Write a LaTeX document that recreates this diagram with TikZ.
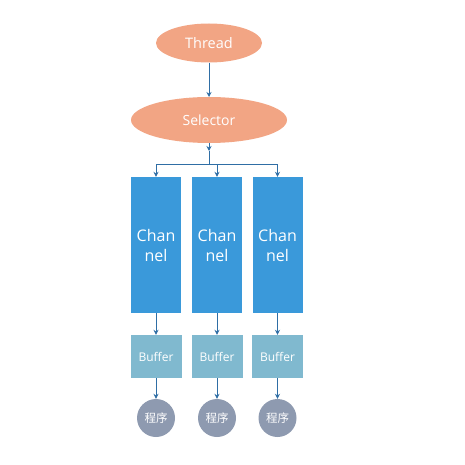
\documentclass[tikz,border=0pt]{standalone}
\usepackage{fontspec}
\setmainfont{Open Sans}
\newfontfamily\cjk{Noto Sans CJK SC}
\usetikzlibrary{arrows.meta,shapes.geometric}
\definecolor{salmon}{HTML}{F2A584}
\definecolor{chanblue}{HTML}{3A99DA}
\definecolor{bufblue}{HTML}{80B9CF}
\definecolor{progrey}{HTML}{8E9AB0}
\definecolor{arrowblue}{HTML}{2F6EA5}
\tikzset{
  oval/.style = {ellipse, fill = salmon, text = white, inner sep = 0pt},
  chanbox/.style = {rectangle, fill = chanblue, text = white, minimum width = 50, minimum height = 136, align = center, font = \fontsize{16}{20}\selectfont},
  bufbox/.style = {rectangle, fill = bufblue, text = white, minimum width = 51, minimum height = 43, font = \fontsize{12}{14}\selectfont},
  prog/.style = {circle, fill = progrey, text = white, minimum size = 38, inner sep = 0pt, font = \cjk\fontsize{11.5}{14}\selectfont},
  arr/.style = {draw = arrowblue, line width = 0.9, -{Stealth[length=5,width=5]}}
}
\begin{document}
\begin{tikzpicture}[x=1pt, y=-1pt]
\useasboundingbox (0,0) rectangle (465,465);
\node[oval, minimum width = 106, minimum height = 39, font = \fontsize{14.5}{16}\selectfont] (thread) at (209,43) {Thread};
\node[oval, minimum width = 156, minimum height = 46, font = \fontsize{14}{16}\selectfont] (sel) at (209,120) {Selector};
\draw[arr] (thread.south) -- (sel.south |- 0,97);
\coordinate (tip) at (209,151);
\coordinate (split) at (209,164);
\draw[arr] (sel.south) -- (tip);
\draw[draw = arrowblue, line width = 0.9] (tip) -- (split);
\foreach \n/\x in {1/156,2/217,3/277.5} {
  \node[chanbox] (ch\n) at (\x,245) {Chan\\nel};
  \node[bufbox] (buf\n) at (\x,356.5) {Buffer};
  \node[prog] (prog\n) at (\x,418) {程序};
  \draw[arr] (split) -| (ch\n.north);
  \draw[arr] (ch\n.south) -- (buf\n.north);
  \draw[arr] (buf\n.south) -- (prog\n.north);
}
\end{tikzpicture}
\end{document}
